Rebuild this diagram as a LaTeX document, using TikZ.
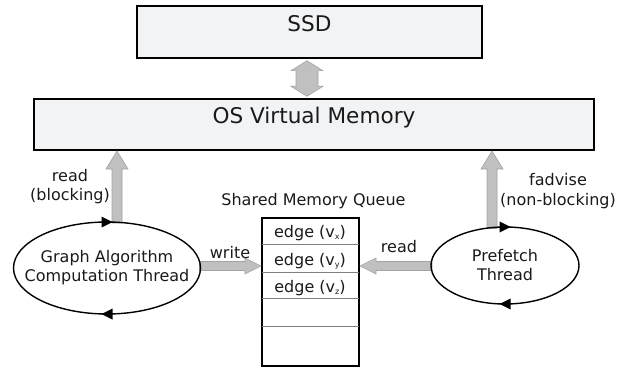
\documentclass[tikz,border=0pt]{standalone}
\usepackage{fontspec}
\setmainfont{DejaVu Sans}
\usetikzlibrary{calc,shapes.geometric}
\definecolor{boxfill}{HTML}{F2F3F5}
\definecolor{arrfill}{HTML}{C0C0C0}
\definecolor{arrline}{HTML}{A3A3A3}
\definecolor{rowline}{HTML}{808080}
\definecolor{txt}{HTML}{1A1A1A}
\newcommand\lgfont{\fontsize{21.6}{26}\selectfont}
\newcommand\smfont{\fontsize{16}{19}\selectfont}
\newcommand\subv[1]{v\raisebox{-2.5pt}{\fontsize{8}{8}\selectfont #1}}
\newcommand\zb[1]{\makebox[0pt]{#1}}
\newcommand\uparr[2]{\filldraw[fat] ($(#1)+(-5,0)$) -- ($(#2)+(-5,18)$) -- ($(#2)+(-11,18)$) -- (#2) -- ($(#2)+(11,18)$) -- ($(#2)+(5,18)$) -- ($(#1)+(5,0)$) -- cycle;}
\newcommand\harr[3]{\filldraw[fat] ($(#1)+(0,-4.5)$) -- ($(#2)+({-16*#3},-4.5)$) -- ($(#2)+({-16*#3},-8)$) -- (#2) -- ($(#2)+({-16*#3},8)$) -- ($(#2)+({-16*#3},4.5)$) -- ($(#1)+(0,4.5)$) -- cycle;}
\newcommand\tri[2]{\fill[black] ($(#1)+({-5.5*#2},-5.5)$) -- ($(#1)+({5.5*#2},0)$) -- ($(#1)+({-5.5*#2},5.5)$) -- cycle;}
\begin{document}
\begin{tikzpicture}[x=1pt,y=-1pt,
  box/.style={draw=black, line width=1.4pt, fill=boxfill, inner xsep=0pt, inner ysep=0pt, font=\lgfont, text=txt},
  ell/.style={ellipse, draw=black, line width=1.4pt, inner sep=0pt, outer sep=0pt, align=center, font=\smfont, text=txt},
  smtxt/.style={font=\smfont, text=txt, inner sep=0pt},
  queue/.style={draw=black, line width=1.4pt, inner sep=0pt},
  rowsep/.style={draw=rowline, line width=1.2pt},
  fat/.style={fill=arrfill, draw=arrline, line width=0.6pt, line join=miter}]
\useasboundingbox (0,0) rectangle (632,369);
% boxes
\node[box, minimum width=345pt, minimum height=52pt, text height=26pt, text depth=26pt] (ssd) at (309.5,32) {SSD};
\node[box, minimum width=560pt, minimum height=51pt, text height=24pt, text depth=27pt] (osvm) at (314,124.5) {OS Virtual Memory};
% queue
\node[queue, minimum width=97pt, minimum height=148pt] (q) at (310.5,292) {};
\foreach \dy in {27,55,81,109}{
  \draw[rowsep] ($(q.north west)+(0.7,\dy)$) -- ($(q.north east)+(-0.7,\dy)$);
}
\node[smtxt, anchor=base] (r1) at (310,237) {edge (\subv{x})};
\node[smtxt, anchor=base] (r2) at (310,265) {edge (\subv{y})};
\node[smtxt, anchor=base] (r3) at (310,292) {edge (\subv{z})};
\node[smtxt, anchor=base] (qlab) at (313.5,205) {Shared Memory Queue};
% connectors (drawn before the thread ellipses so that the outlines lie on top)
\path (107,268) coordinate (gac) (505,265.5) coordinate (pfc);
\coordinate (d1) at ($(ssd.south)+(-2.5,2)$);
\coordinate (d2) at ($(d1 |- osvm.north)+(0,-2)$);
\filldraw[fat] (d1) -- ($(d1)+(16,10)$) -- ($(d1)+(11,10)$) -- ($(d2)+(11,-10)$) -- ($(d2)+(16,-10)$) -- (d2) -- ($(d2)+(-16,-10)$) -- ($(d2)+(-11,-10)$) -- ($(d1)+(-11,10)$) -- ($(d1)+(-16,10)$) -- cycle;
\coordinate (u1s) at ($(gac)+(10,-45)$);
\coordinate (u1e) at ($(u1s |- osvm.south)+(0,0.3)$);
\uparr{u1s}{u1e}
\coordinate (u2s) at ($(pfc)+(-13,-37)$);
\coordinate (u2e) at ($(u2s |- osvm.south)+(0,0.3)$);
\uparr{u2s}{u2e}
\coordinate (ws) at ($(gac)+(92.5,-2)$);
\coordinate (we) at ($(ws -| q.west)+(-0.3,0)$);
\harr{ws}{we}{1}
\coordinate (rs) at ($(pfc)+(-73,0.5)$);
\coordinate (re) at ($(rs -| q.east)+(0.3,0)$);
\harr{rs}{re}{-1}
% threads
\node[ell, minimum width=187pt, minimum height=92pt] (ga) at (gac) {\zb{Graph Algorithm}\\\zb{Computation Thread}};
\node[ell, minimum width=148pt, minimum height=77pt] (pf) at (pfc) {\zb{Prefetch}\\\zb{Thread}};
\tri{ga.north}{1}
\tri{ga.south}{-1}
\tri{pf.north}{1}
\tri{pf.south}{-1}
% labels
\node[smtxt, anchor=base] (lr1) at (70,181) {read};
\node[smtxt, anchor=base] (lr2) at (70,200) {(blocking)};
\node[smtxt, anchor=base] (fa1) at (558,185) {fadvise};
\node[smtxt, anchor=base] (fa2) at (558,205) {(non-blocking)};
\node[smtxt, anchor=base] (wl) at (230,258) {write};
\node[smtxt, anchor=base] (rl) at (399,252) {read};
\end{tikzpicture}
\end{document}
